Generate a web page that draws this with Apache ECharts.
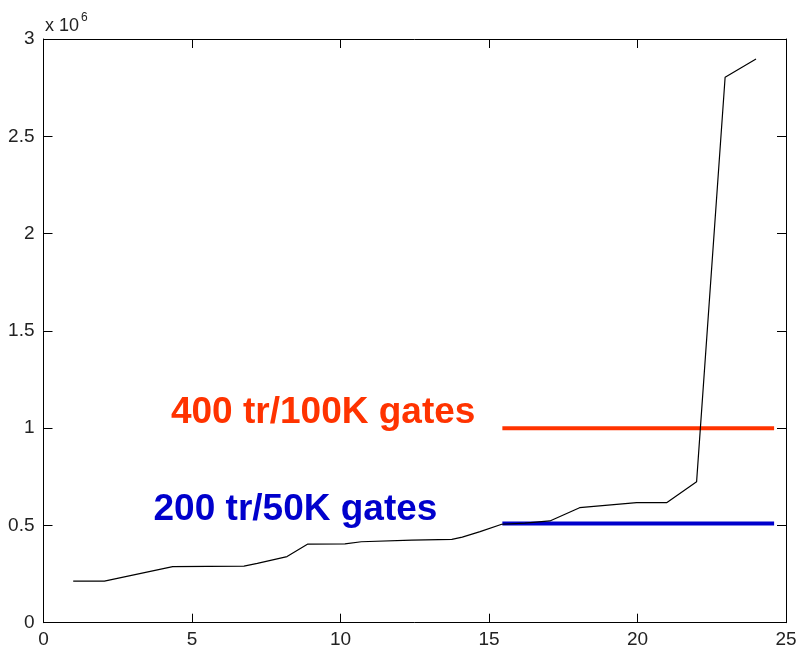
<!DOCTYPE html>
<html>
<head>
<meta charset="utf-8">
<script src="https://cdn.jsdelivr.net/npm/echarts@6/dist/echarts.min.js"></script>
<style>
  html, body { margin: 0; padding: 0; background: #fff; }
  #chart { width: 800px; height: 652px; }
</style>
</head>
<body>
<div id="chart"></div>
<script>
// Cumulative curve: x positions and values (units of 1e6)
const curveX = [1, 2.05, 4.35, 6.75, 7.2, 8.2, 8.9, 10.15, 10.7, 12.4, 13.75, 14.1, 14.7, 15.43, 16.2, 17.05, 18.05, 19.97, 20.98, 21.99, 22.95, 23.99];
const curveY = [0.214, 0.214, 0.288, 0.291, 0.305, 0.34, 0.404, 0.405, 0.416, 0.424, 0.428, 0.44, 0.468, 0.506, 0.512, 0.523, 0.591, 0.617, 0.617, 0.725, 2.803, 2.897];

// Reference levels (units of 1e6) and the x span they cover
const levelNames = ['400 tr/100K gates', '200 tr/50K gates'];
const levelValues = [1.0, 0.51];
const levelColors = ['#ff3300', '#0000cc'];
const levelSpan = [15.45, 24.6];

// Axis ranges and ticks
const xMin = 0, xMax = 25, xStep = 5;
const yMin = 0, yMax = 3, yStep = 0.5;
const SCALE = 1e6;

const curveData = curveX.map((x, i) => [x, curveY[i] * SCALE]);

const chart = echarts.init(document.getElementById('chart'), null, { renderer: 'canvas' });

const tickFont = { color: '#222', fontSize: 19, fontFamily: 'Liberation Sans, Arial, Helvetica, sans-serif' };

function xAxisCfg(pos, showLabel) {
  return {
    type: 'value', position: pos, min: xMin, max: xMax, interval: xStep,
    axisLine: { show: true, onZero: false, lineStyle: { color: '#000', width: 1 } },
    axisTick: { show: true, inside: true, length: 9, lineStyle: { color: '#000' } },
    axisLabel: Object.assign({ show: showLabel, margin: 8 }, tickFont),
    splitLine: { show: false }
  };
}
function yAxisCfg(pos, showLabel) {
  return {
    type: 'value', position: pos, min: yMin * SCALE, max: yMax * SCALE, interval: yStep * SCALE,
    axisLine: { show: true, onZero: false, lineStyle: { color: '#000', width: 1 } },
    axisTick: { show: true, inside: true, length: 9, lineStyle: { color: '#000' } },
    axisLabel: Object.assign({ show: showLabel, margin: 9, formatter: v => String(v / SCALE) }, tickFont),
    splitLine: { show: false }
  };
}

const levelSeries = levelValues.map((v, i) => ({
  type: 'line',
  name: levelNames[i],
  data: [[levelSpan[0], v * SCALE], [levelSpan[1], v * SCALE]],
  showSymbol: false,
  lineStyle: { color: levelColors[i], width: 4 },
  silent: true,
  z: 3
}));

chart.setOption({
  animation: false,
  backgroundColor: '#fff',
  grid: { left: 43.5, right: 14, top: 39, bottom: 29.3, containLabel: false },
  xAxis: [xAxisCfg('bottom', true), xAxisCfg('top', false)],
  yAxis: [yAxisCfg('left', true), yAxisCfg('right', false)],
  series: [
    {
      type: 'line',
      data: curveData,
      showSymbol: false,
      lineStyle: { color: '#000', width: 1.2 },
      z: 4
    }
  ].concat(levelSeries)
});

// Exponent marker above the value axis
const exponent = {
  type: 'text', left: 45, top: 12,
  style: {
    text: '{a|x 10}{b|6}',
    rich: {
      a: { fontSize: 18, fill: '#222', fontFamily: 'Liberation Sans, Arial, sans-serif', verticalAlign: 'bottom' },
      b: { fontSize: 12, fill: '#222', fontFamily: 'Liberation Sans, Arial, sans-serif', verticalAlign: 'top', padding: [0, 0, 11, 2] }
    }
  }
};

// Captions placed just left of each level line, anchored to the data coordinates
const captionOffsets = [[-27, -15], [-65, -14]];
const captions = levelValues.map((v, i) => {
  const p = chart.convertToPixel({ xAxisIndex: 0, yAxisIndex: 0 }, [levelSpan[0], v * SCALE]);
  return {
    type: 'text',
    x: p[0] + captionOffsets[i][0],
    y: p[1] + captionOffsets[i][1],
    style: {
      text: levelNames[i],
      fill: levelColors[i],
      font: 'bold 37px "Liberation Sans", Arial, sans-serif',
      textAlign: 'right',
      textVerticalAlign: 'middle'
    },
    z: 10
  };
});
chart.setOption({ graphic: [exponent].concat(captions) });
</script>
</body>
</html>
